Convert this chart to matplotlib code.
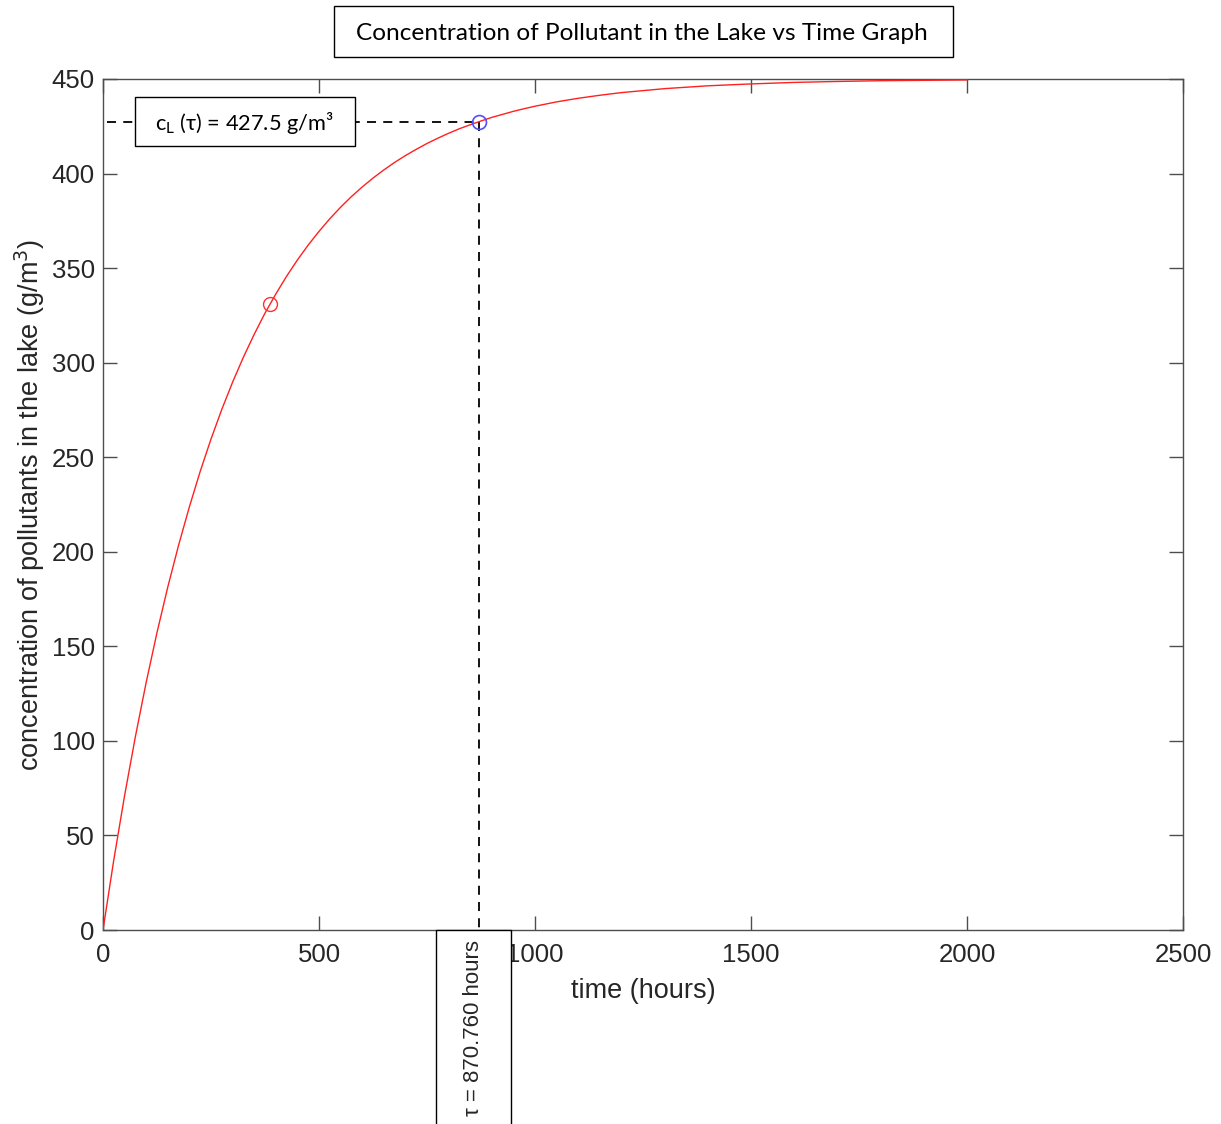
import matplotlib.pyplot as plt
from matplotlib.patches import Rectangle

# concentration curve (hours, g/m^3)
time_h = [0, 25, 50, 75, 100, 125, 150, 175, 200, 225, 250, 275, 300, 325, 350,
          375, 400, 425, 450, 475, 500, 525, 550, 575, 600, 625, 650, 675, 700,
          725, 750, 775, 800, 825, 850, 875, 900, 925, 950, 975, 1000, 1050,
          1100, 1150, 1200, 1300, 1400, 1500, 1600, 1700, 1800, 1900, 2000]
conc = [0, 37.1, 71.1, 102.3, 131.0, 157.3, 181.4, 203.5, 223.8, 242.5, 259.6,
        275.3, 289.7, 302.9, 315.0, 326.2, 336.3, 345.7, 354.3, 362.2, 369.4,
        376.1, 382.2, 387.8, 392.9, 397.6, 401.9, 405.9, 409.5, 412.8, 415.9,
        418.7, 421.3, 423.7, 425.8, 427.8, 429.7, 431.3, 432.9, 434.3, 435.6,
        437.9, 439.8, 441.4, 442.8, 444.9, 446.4, 447.4, 448.2, 448.7, 449.1,
        449.3, 449.5]

# marked points
mark_t = 386.6
mark_c = 331.0
tau = 870.760
c_tau = 427.5

x_ticks = [0, 500, 1000, 1500, 2000, 2500]
y_ticks = [0, 50, 100, 150, 200, 250, 300, 350, 400, 450]

plt.rcParams['font.family'] = ['Liberation Sans', 'DejaVu Sans']
axis_col = '#4d4d4d'
text_col = '#262626'

W, H = 1221, 1124
fig = plt.figure(figsize=(W / 100, H / 100), dpi=100)
ax = fig.add_axes([103 / W, 1 - 930 / H, 1080 / W, 851 / H])

ax.plot(time_h, conc, color='#ff2020', lw=1.0, zorder=3)
ax.plot([mark_t], [mark_c], 'o', mfc='none', mec='#ff3030', ms=10, mew=1.0, zorder=4)
ax.plot([tau], [c_tau], 'o', mfc='none', mec='#5050ff', ms=10, mew=1.2, zorder=4)

# dashed guide lines
ax.plot([10, tau], [c_tau, c_tau], 'k--', lw=1.3, dashes=(5, 4), zorder=2)
ax.plot([tau, tau], [c_tau, 0], 'k--', lw=1.3, dashes=(5, 4), zorder=2)

ax.set_xlim(0, 2500)
ax.set_ylim(0, 450)
ax.set_xticks(x_ticks)
ax.set_yticks(y_ticks)
ax.tick_params(direction='in', length=10, width=1, colors=axis_col,
               labelcolor=text_col, labelsize=18.5, top=True, right=True)
ax.tick_params(axis='x', pad=9)
ax.tick_params(axis='y', pad=6)
for s in ax.spines.values():
    s.set_color(axis_col)
    s.set_linewidth(1)

ax.set_xlabel('time (hours)', fontsize=19.5, color=text_col, labelpad=8)
ax.set_ylabel('concentration of pollutants in the lake (g/m$^3$)',
              fontsize=19.5, color=text_col, labelpad=3)

# title box
tfont = ['Lato', 'DejaVu Sans']
fig.patches.append(Rectangle((334 / W, 1 - 57 / H), 619 / W, 51 / H,
                             transform=fig.transFigure, fill=False,
                             ec='black', lw=1))
fig.text(642 / W, 1 - 33 / H, 'Concentration of Pollutant in the Lake vs Time Graph',
         ha='center', va='center', fontsize=17.6, family=tfont, color='black')

# c_L annotation box
fig.patches.append(Rectangle((135 / W, 1 - 146 / H), 220 / W, 49 / H,
                             transform=fig.transFigure, fc='white',
                             ec='black', lw=1, zorder=5))
fig.text(244 / W, 1 - 123 / H, r'c$_{\mathregular{L}}$ (τ) = 427.5 g/m³',
         ha='center', va='center', fontsize=15.7, family=tfont, color='black', zorder=6)

# tau box below the axis
fig.patches.append(Rectangle((436 / W, -10 / H), 75 / W, (1124 - 930 + 10) / H,
                             transform=fig.transFigure, fc='white',
                             ec='black', lw=1, zorder=5, clip_on=False))
fig.text(473.5 / W, 1 - 1028 / H, 'τ = 870.760 hours', rotation=90,
         ha='center', va='center', fontsize=16, color=text_col, zorder=6)

fig.savefig('out.png', dpi=100)
